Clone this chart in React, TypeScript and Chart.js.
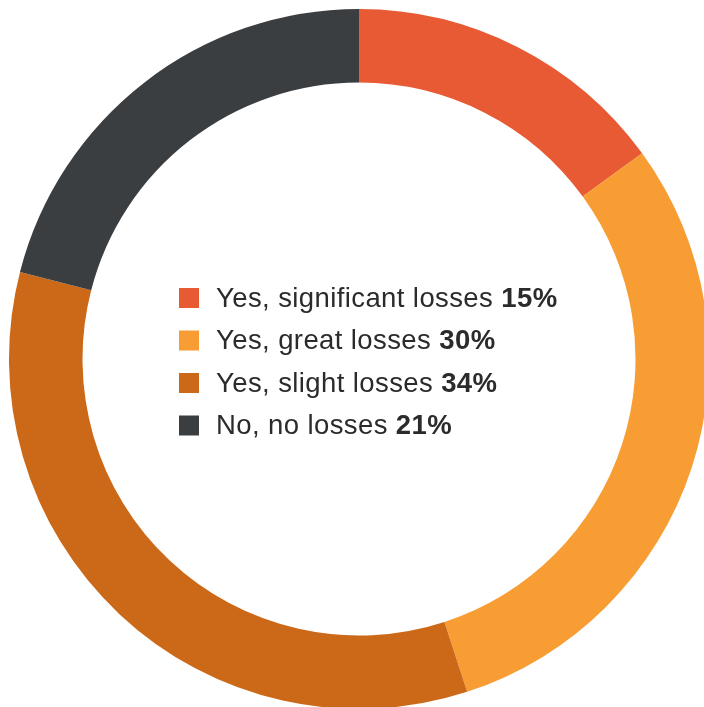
import React, { useEffect, useRef } from "react";
import { Chart, registerables } from "chart.js";

Chart.register(...registerables);

const categories = ["Yes, significant losses", "Yes, great losses", "Yes, slight losses", "No, no losses"];
const values = [15, 30, 34, 21];
const colors = ["#E85A33", "#F79D34", "#CC6918", "#3B3E41"];

const centerLegend = {
  id: "centerLegend",
  afterDraw(chart: any) {
    const ctx = chart.ctx;
    const meta = chart.getDatasetMeta(0);
    const arc = meta.data[0];
    const cx = arc.x;
    const cy = arc.y;
    const left = cx - 180;
    const rowH = 42.5;
    const top = cy - 61;
    ctx.save();
    ctx.textBaseline = "middle";
    (ctx as any).letterSpacing = "0.4px";
    categories.forEach((c, i) => {
      const y = top + i * rowH;
      ctx.fillStyle = colors[i];
      ctx.fillRect(left, y - 10, 20, 20);
      ctx.font = "27.5px 'Liberation Sans', Arial, sans-serif";
      ctx.fillStyle = "#2b2b2b";
      const label = c + " ";
      ctx.fillText(label, left + 37, y + 1);
      const w = ctx.measureText(label).width;
      ctx.font = "bold 27.5px 'Liberation Sans', Arial, sans-serif";
      ctx.fillText(values[i] + "%", left + 37 + w, y + 1);
    });
    ctx.restore();
  },
};

export default function App() {
  const ref = useRef<HTMLCanvasElement>(null);
  useEffect(() => {
    const chart = new Chart(ref.current!, {
      type: "doughnut",
      data: {
        labels: categories,
        datasets: [
          {
            data: values,
            backgroundColor: colors,
            borderWidth: 0,
          },
        ],
      },
      options: {
        responsive: false,
        animation: false,
        cutout: "79%",
        layout: { padding: 9 },
        plugins: { legend: { display: false }, tooltip: { enabled: false } },
      },
      plugins: [centerLegend],
    });
    return () => chart.destroy();
  }, []);
  return (
    <div style={{ position: "fixed", left: 0, top: 0, width: 704, height: 707, overflow: "hidden", background: "#fff" }}>
      <canvas ref={ref} width={718} height={718} style={{ width: 718, height: 718, display: "block" }} />
    </div>
  );
}
